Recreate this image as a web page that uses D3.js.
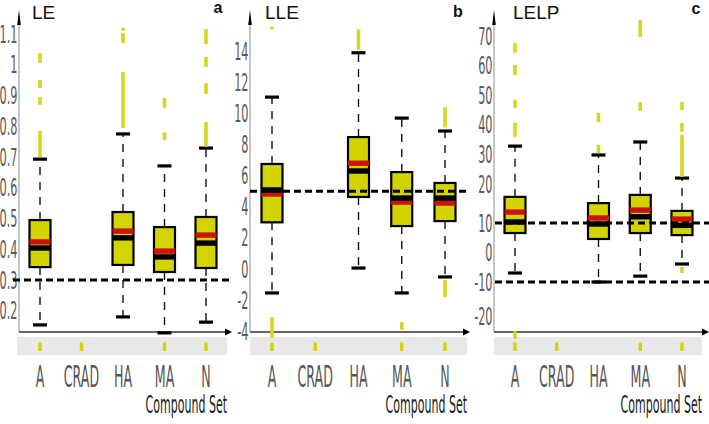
<!DOCTYPE html>
<html>
<head>
<meta charset="utf-8">
<script src="https://cdn.jsdelivr.net/npm/d3@7"></script>
<style>
  body { margin: 0; background: #fff; }
  svg { display: block; }
</style>
</head>
<body>
<svg width="709" height="424"></svg>
<script>
// compound sets on the x axis
var categories = ["A", "CRAD", "HA", "MA", "N"];
// sets that get a mark in the grey strip under the axis
var stripCategories = ["A", "CRAD", "MA", "N"];

// ---- LE ----
var leTicks = [0.2, 0.3, 0.4, 0.5, 0.6, 0.7, 0.8, 0.9, 1, 1.1];
var leBoxes = [
  { cat: "A",  lo: 0.154, q1: 0.342, med: 0.404, mean: 0.424, q3: 0.495, hi: 0.693 },
  { cat: "HA", lo: 0.180, q1: 0.349, med: 0.437, mean: 0.459, q3: 0.521, hi: 0.775 },
  { cat: "MA", lo: 0.128, q1: 0.326, med: 0.375, mean: 0.394, q3: 0.472, hi: 0.671 },
  { cat: "N",  lo: 0.163, q1: 0.339, med: 0.420, mean: 0.446, q3: 0.505, hi: 0.729 }
];
// runs of outliers: [set, low, high]
var leOutliers = [
  ["A", 0.70, 0.785], ["A", 0.869, 0.895], ["A", 0.924, 0.95], ["A", 1.006, 1.038],
  ["HA", 0.794, 0.976], ["HA", 1.07, 1.103], ["HA", 1.115, 1.12],
  ["MA", 0.755, 0.78], ["MA", 0.86, 0.892],
  ["N", 0.733, 0.814], ["N", 0.905, 0.94], ["N", 0.993, 1.025], ["N", 1.067, 1.116]
];
var leThresholds = [0.3];

// ---- LLE ----
var lleTicks = [-4, -2, 0, 2, 4, 6, 8, 10, 12, 14];
var lleBoxes = [
  { cat: "A",  lo: -1.54, q1: 3.0,  med: 5.08, mean: 4.82, q3: 6.75, hi: 11.05 },
  { cat: "HA", lo: 0.06,  q1: 4.63, med: 6.3,  mean: 6.8,  q3: 8.48, hi: 13.9 },
  { cat: "MA", lo: -1.54, q1: 2.76, med: 4.56, mean: 4.3,  q3: 6.23, hi: 9.7 },
  { cat: "N",  lo: -0.51, q1: 3.08, med: 4.56, mean: 4.24, q3: 5.53, hi: 8.87 }
];
var lleOutliers = [
  ["A", 15.5, 15.6], ["A", -4.4, -3.1],
  ["HA", 14.1, 15.4],
  ["MA", -3.9, -3.4],
  ["N", 9.1, 10.4], ["N", -1.8, -0.7]
];
var lleThresholds = [5];

// ---- LELP ----
var lelpTicks = [-20, -10, 0, 10, 20, 30, 40, 50, 60, 70];
var lelpBoxes = [
  { cat: "A",  lo: -6.95, q1: 6.6,  med: 10.26, mean: 12.8, q3: 16.7, hi: 32.8 },
  { cat: "HA", lo: -10,   q1: 4.58, med: 9.66,  mean: 11.3, q3: 15.1, hi: 29.8 },
  { cat: "MA", lo: -8,    q1: 6.6,  med: 11.6,  mean: 13.3, q3: 17.2, hi: 34.2 },
  { cat: "N",  lo: -3.9,  q1: 5.9,  med: 9.2,   mean: 11.0, q3: 13.1, hi: 22 }
];
var lelpOutliers = [
  ["A", 64.3, 67.6], ["A", 56.8, 60.2], ["A", 45.7, 48.4], ["A", 35.9, 40.6], ["A", -26.7, -24.5],
  ["HA", 30.5, 33.2], ["HA", 40.9, 44],
  ["MA", 69.7, 75.4], ["MA", 44.7, 47.7],
  ["N", 45, 47.7], ["N", 37.6, 40.6], ["N", 22.4, 36.6], ["N", -6.95, -4.9]
];
var lelpThresholds = [10, -10];

var panels = [
  { title: "LE", letter: "a", ticks: leTicks, boxes: leBoxes, outliers: leOutliers, thresholds: leThresholds,
    yDomain: [0.3, 1.1], yRange: [280, 34], axisX: 19, xEnd: 232, lineStart: 13, strip: [17, 227],
    catRange: [40, 206], titleX: 32, letterPos: [218, 12.5] },
  { title: "LLE", letter: "b", ticks: lleTicks, boxes: lleBoxes, outliers: lleOutliers, thresholds: lleThresholds,
    yDomain: [0, 14], yRange: [269, 51.2], axisX: 250, xEnd: 470, lineStart: 250, strip: [250, 467],
    catRange: [272, 445], titleX: 265, letterPos: [458, 16.5] },
  { title: "LELP", letter: "c", ticks: lelpTicks, boxes: lelpBoxes, outliers: lelpOutliers, thresholds: lelpThresholds,
    yDomain: [-20, -10, 10, 20, 70], yRange: [316, 282, 223, 184, 36], axisX: 494, xEnd: 709, lineStart: 495, strip: [494, 702],
    catRange: [515, 682], titleX: 513, letterPos: [696, 14] }
];

var svg = d3.select("svg");
var yellow = "#d3d300",
    outlierYellow = "#d6d61e",
    red = "#cc1111",
    axisY = 332,
    boxW = 21,
    capW = 14;

panels.forEach(function (p) {
  var y = d3.scaleLinear().domain(p.yDomain).range(p.yRange);
  var x = d3.scalePoint().domain(categories).range(p.catRange);
  var g = svg.append("g");

  // grey strip under the axis
  g.append("rect")
    .attr("x", p.strip[0]).attr("y", 337)
    .attr("width", p.strip[1] - p.strip[0]).attr("height", 18)
    .attr("fill", "#e8e8e8");
  g.selectAll(".stripmark").data(stripCategories).enter().append("rect")
    .attr("x", function (d) { return x(d) - 1.7; })
    .attr("y", 342.5).attr("width", 3.4).attr("height", 8.5)
    .attr("fill", yellow);

  // y axis labels
  var axis = d3.axisLeft(y).tickValues(p.ticks).tickSize(0).tickPadding(0)
    .tickFormat(function (d) { return String(d); });
  var ag = g.append("g").attr("transform", "translate(" + (p.axisX - 1.5) + ",0)").call(axis);
  ag.select(".domain").remove();
  ag.selectAll("text")
    .attr("x", 0)
    .attr("transform", "scale(0.45,1)")
    .attr("font-family", "DejaVu Sans")
    .attr("font-size", 25)
    .attr("fill", "#5a5a5a");

  // y axis line + arrow
  g.append("line")
    .attr("x1", p.axisX).attr("x2", p.axisX)
    .attr("y1", axisY).attr("y2", 16)
    .attr("stroke", "#b5b5b5").attr("stroke-width", 1.5);
  g.append("path")
    .attr("d", "M" + (p.axisX - 1.8) + ",25L" + p.axisX + ",10L" + (p.axisX + 1.8) + ",25Z")
    .attr("fill", "#000");

  // x axis line + arrow
  g.append("line")
    .attr("x1", p.axisX).attr("x2", p.xEnd - 5)
    .attr("y1", axisY).attr("y2", axisY)
    .attr("stroke", "#333").attr("stroke-width", 1.5);
  g.append("path")
    .attr("d", "M" + (p.xEnd - 7) + "," + (axisY - 3.5) + "L" + p.xEnd + "," + axisY + "L" + (p.xEnd - 7) + "," + (axisY + 3.5) + "Z")
    .attr("fill", "#000");

  // whiskers
  var wg = g.append("g").attr("stroke", "#111");
  p.boxes.forEach(function (b) {
    var cx = x(b.cat);
    wg.append("line").attr("x1", cx).attr("x2", cx).attr("y1", y(b.q3)).attr("y2", y(b.hi))
      .attr("stroke-width", 1.4).attr("stroke-dasharray", "8,7");
    wg.append("line").attr("x1", cx).attr("x2", cx).attr("y1", y(b.q1)).attr("y2", y(b.lo))
      .attr("stroke-width", 1.4).attr("stroke-dasharray", "8,7");
    [b.hi, b.lo].forEach(function (v) {
      wg.append("line").attr("x1", cx - capW / 2).attr("x2", cx + capW / 2)
        .attr("y1", y(v)).attr("y2", y(v))
        .attr("stroke-width", 3.2).attr("stroke", "#000");
    });
  });

  // outliers
  g.selectAll(".outlier").data(p.outliers).enter().append("rect")
    .attr("x", function (d) { return x(d[0]) - 1.8; })
    .attr("y", function (d) { return Math.min(y(d[1]), y(d[2])); })
    .attr("width", 3.6)
    .attr("height", function (d) { return Math.max(3, Math.abs(y(d[1]) - y(d[2]))); })
    .attr("fill", outlierYellow);

  // boxes
  var bg = g.selectAll(".box").data(p.boxes).enter().append("g");
  bg.append("rect")
    .attr("x", function (d) { return x(d.cat) - boxW / 2; })
    .attr("y", function (d) { return y(d.q3); })
    .attr("width", boxW)
    .attr("height", function (d) { return y(d.q1) - y(d.q3); })
    .attr("fill", yellow).attr("stroke", "#000").attr("stroke-width", 2.2);
  bg.append("rect")
    .attr("x", function (d) { return x(d.cat) - boxW / 2; })
    .attr("y", function (d) { return y(d.mean) - 2.7; })
    .attr("width", boxW).attr("height", 5.4)
    .attr("fill", red);
  bg.append("rect")
    .attr("x", function (d) { return x(d.cat) - boxW / 2; })
    .attr("y", function (d) { return y(d.med) - 2.7; })
    .attr("width", boxW).attr("height", 5.4)
    .attr("fill", "#000");

  // threshold lines
  g.selectAll(".thr").data(p.thresholds).enter().append("line")
    .attr("x1", p.lineStart).attr("x2", p.xEnd)
    .attr("y1", function (d) { return y(d); }).attr("y2", function (d) { return y(d); })
    .attr("stroke", "#000").attr("stroke-width", 3).attr("stroke-dasharray", "7,4");

  // category labels
  g.selectAll(".cat").data(categories).enter().append("text")
    .attr("transform", function (d) { return "translate(" + x(d) + ",387) scale(0.42,1)"; })
    .attr("text-anchor", "middle")
    .attr("font-family", "DejaVu Sans").attr("font-size", 30)
    .attr("fill", "#555")
    .text(function (d) { return d; });

  g.append("text")
    .attr("transform", "translate(" + p.strip[1] + ",413) scale(0.46,1)")
    .attr("text-anchor", "end")
    .attr("font-family", "DejaVu Sans").attr("font-size", 24)
    .attr("fill", "#222")
    .text("Compound Set");

  // title and panel letter
  g.append("text")
    .attr("x", p.titleX).attr("y", 18.5)
    .attr("font-family", "Liberation Sans, Arial, sans-serif").attr("font-size", 19)
    .attr("fill", "#111")
    .text(p.title);
  g.append("text")
    .attr("x", p.letterPos[0]).attr("y", p.letterPos[1])
    .attr("text-anchor", "middle")
    .attr("font-family", "Liberation Sans, Arial, sans-serif").attr("font-size", 16)
    .attr("font-weight", "bold")
    .attr("fill", "#111")
    .text(p.letter);
});
</script>
</body>
</html>
